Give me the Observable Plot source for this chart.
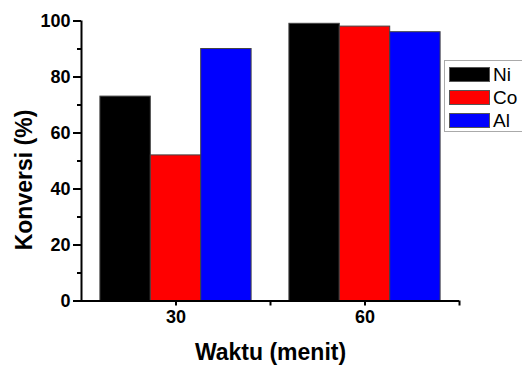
<!DOCTYPE html>
<html>
<head>
<meta charset="utf-8">
<script src="https://cdn.jsdelivr.net/npm/d3@7"></script>
<script src="https://cdn.jsdelivr.net/npm/@observablehq/plot@0.6"></script>
<style>
  html, body { margin: 0; padding: 0; background: #fff; }
  #wrap { position: relative; width: 522px; height: 367px; overflow: hidden; font-family: "Liberation Sans", Arial, sans-serif; }
  #legend { position: absolute; left: 444px; top: 60px; width: 90px; height: 72px; border: 1px solid #aaa; box-sizing: border-box; background: #fff; }
  .item { position: absolute; left: 4px; height: 15px; display: flex; align-items: center; }
  .sw { width: 41px; height: 15px; box-sizing: border-box; border: 1px solid #555; }
  .lab { margin-left: 3px; font-size: 19px; line-height: 15px; color: #000; }
</style>
</head>
<body>
<div id="wrap"></div>
<script>
const times = [30, 60];
const series = ["Ni", "Co", "Al"];
const colors = ["#000000", "#ff0000", "#0000ff"];
const ni = [73, 99];
const co = [52, 98];
const al = [90, 96];
const yTicks = [0, 20, 40, 60, 80, 100];
const yMinor = [10, 30, 50, 70, 90];
const xTicks = [30, 60];
const xMinor = [45, 75];
const xTitle = "Waktu (menit)";
const yTitle = "Konversi (%)";

const values = [ni, co, al];
const barW = 8; // width of one bar in x-data units
const rows = [];
times.forEach((t, i) => {
  series.forEach((s, j) => {
    rows.push({time: t, series: s, idx: j, value: values[j][i]});
  });
});

const font = "Liberation Sans, Arial, sans-serif";

const chart = Plot.plot({
  width: 522,
  height: 367,
  marginLeft: 81,
  marginRight: 63,
  marginTop: 20.5,
  marginBottom: 66.5,
  style: {fontFamily: font, background: "transparent", overflow: "visible"},
  x: {domain: [15, 75]},
  y: {domain: [0, 100]},
  color: {domain: series, range: colors},
  marks: [
    Plot.rectY(rows, {
      x1: d => d.time + (d.idx - 1.5) * barW,
      x2: d => d.time + (d.idx - 0.5) * barW,
      y: "value",
      fill: "series",
      stroke: "#444",
      strokeWidth: 1
    }),
    Plot.ruleX([15], {y1: 0, y2: 100, stroke: "#000", strokeWidth: 2}),
    Plot.ruleY([0], {stroke: "#000", strokeWidth: 2}),
    Plot.axisY({ticks: yTicks, tickSize: 8, tickPadding: 3, strokeWidth: 2, fontSize: 18, fontWeight: "bold", fill: "#000", label: null}),
    Plot.axisY({ticks: yMinor, tickSize: 4, strokeWidth: 2, tickFormat: () => "", label: null}),
    Plot.axisX({ticks: xTicks, tickSize: 5, tickPadding: 4, strokeWidth: 2, fontSize: 18, fontWeight: "bold", fill: "#000", label: null}),
    Plot.axisX({ticks: xMinor, tickSize: 5, strokeWidth: 2, tickFormat: () => "", label: null}),
    Plot.text([xTitle], {frameAnchor: "bottom", textAnchor: "middle", dy: 52, lineAnchor: "middle", fontSize: 23, fontWeight: "bold", fill: "#000"}),
    Plot.text([yTitle], {frameAnchor: "left", textAnchor: "middle", dx: -57, dy: 19, rotate: -90, lineAnchor: "middle", fontSize: 23, fontWeight: "bold", fill: "#000"})
  ]
});

const wrap = document.getElementById("wrap");
wrap.appendChild(chart);
chart.style.position = "absolute";
chart.style.left = "0";
chart.style.top = "0";

const legend = document.createElement("div");
legend.id = "legend";
series.forEach((s, j) => {
  const item = document.createElement("div");
  item.className = "item";
  item.style.top = (6 + j * 23) + "px";
  const sw = document.createElement("div");
  sw.className = "sw";
  sw.style.background = colors[j];
  const lab = document.createElement("span");
  lab.className = "lab";
  lab.textContent = s;
  item.appendChild(sw);
  item.appendChild(lab);
  legend.appendChild(item);
});
wrap.appendChild(legend);
</script>
</body>
</html>
